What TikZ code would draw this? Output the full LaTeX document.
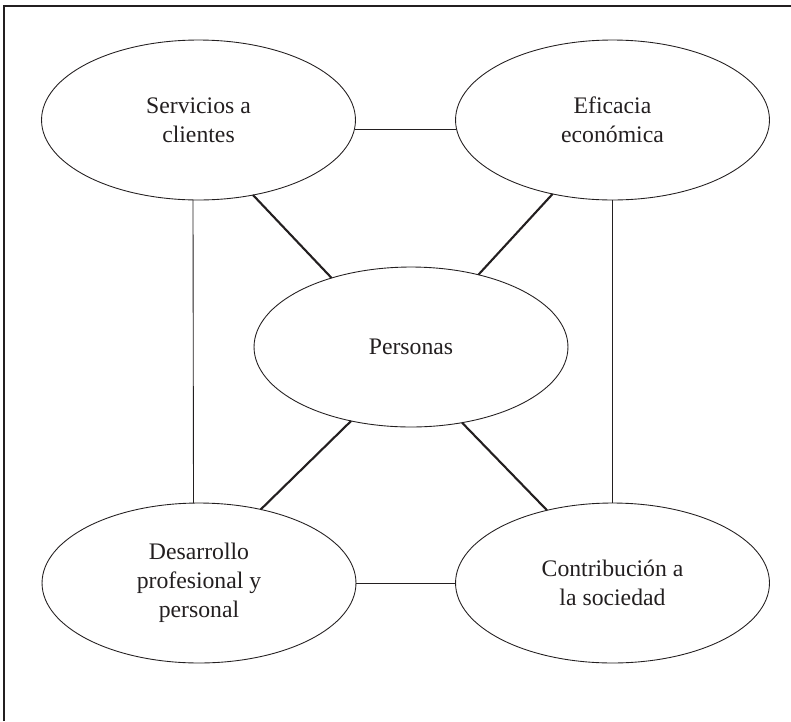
\documentclass[tikz,border=0pt]{standalone}
\usepackage{fontspec}
\setmainfont{Liberation Serif}
\usetikzlibrary{shapes.geometric}
\definecolor{ink}{HTML}{231F20}

\tikzset{
  bubble/.style={ellipse, draw=ink, line width=0.5pt, minimum width=6.28cm, minimum height=3.2cm,
    inner sep=0pt, outer sep=0pt, align=center, text=ink, font=\fontsize{13.5}{16.5}\selectfont},
  thinlink/.style={draw=ink, line width=0.5pt},
  thicklink/.style={draw=ink, line width=1.2pt},
}

\begin{document}
\begin{tikzpicture}[x=0.02cm, y=-0.02cm]
  \useasboundingbox (0,0) rectangle (791,721);
  % frame, left and top only
  \draw[ink, line width=0.8pt] (4,721) -- (4,6) -- (791,6);

  % ellipses
  \node[bubble] (servicios) at (198.5,120) {Servicios a\\clientes};
  \node[bubble] (eficacia) at (612.5,120) {Eficacia\\económica};
  \node[bubble] (personas) at (411,347) {Personas};
  \node[bubble] (desarrollo) at (199,583) {Desarrollo\\profesional y\\personal};
  \node[bubble] (sociedad) at (612.5,583) {Contribución a\\la sociedad};

  % square of thin links
  \draw[thinlink] ([yshift=-0.18cm]servicios.east) -- ([yshift=-0.18cm]eficacia.west);
  \draw[thinlink] (desarrollo.east) -- (sociedad.west);
  \draw[thinlink] ([xshift=-0.11cm]servicios.south) -- ([xshift=-0.11cm]desarrollo.north);
  \draw[thinlink] (eficacia.south) -- (sociedad.north);

  % thick links to the centre
  \draw[thicklink] (servicios.-54) -- (personas.139);
  \draw[thicklink] (eficacia.231) -- (personas.47);
  \draw[thicklink] (desarrollo.50) -- (personas.231);
  \draw[thicklink] (sociedad.132) -- (personas.-56);
\end{tikzpicture}
\end{document}
